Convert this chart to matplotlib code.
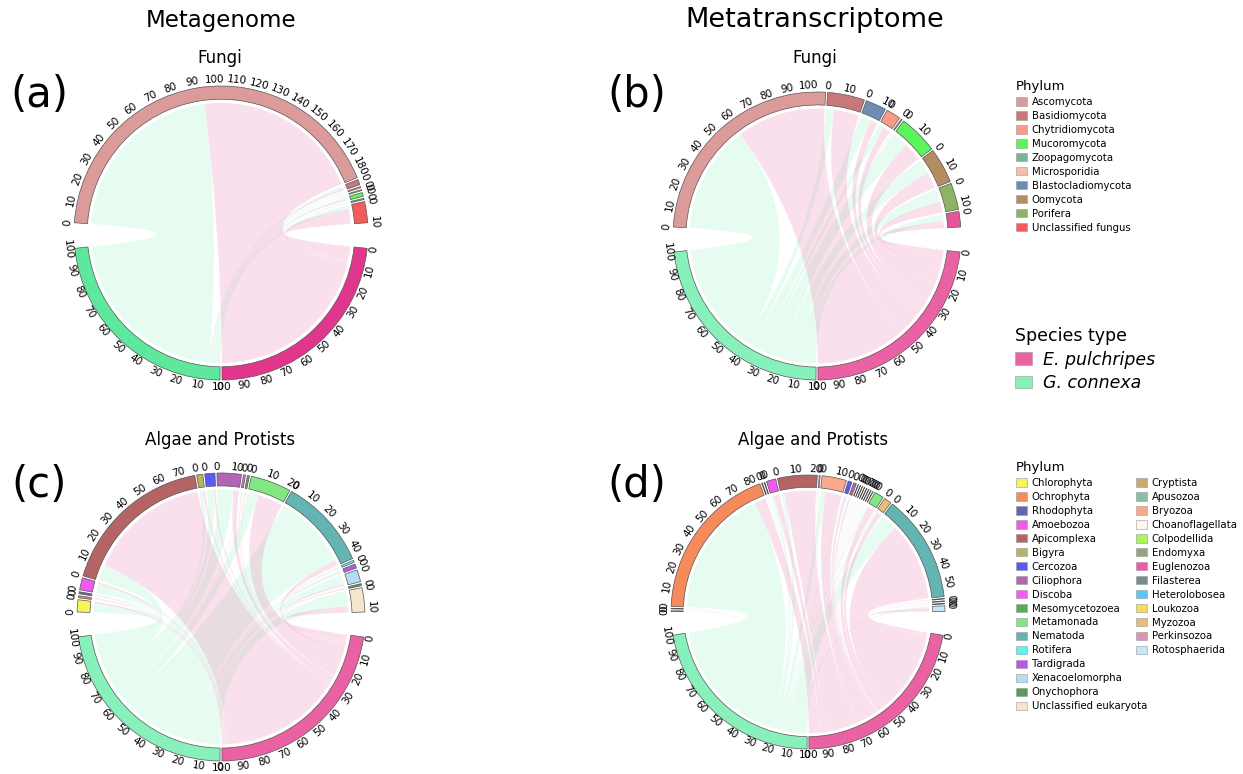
import numpy as np
import matplotlib.pyplot as plt
from matplotlib.patches import Wedge, PathPatch, Patch
from matplotlib.path import Path

W, H = 1243, 774

# colours of every phylum used in the legends
fungi_names = ["Ascomycota", "Basidiomycota", "Chytridiomycota", "Mucoromycota",
               "Zoopagomycota", "Microsporidia", "Blastocladiomycota", "Oomycota",
               "Porifera", "Unclassified fungus"]
fungi_colors = ["#dc9b9b", "#c87878", "#fa9b87", "#5af55a", "#78b496",
                "#f5bea9", "#6e8cb4", "#b48c64", "#8cb464", "#f55a5a"]

algae_names_1 = ["Chlorophyta", "Ochrophyta", "Rhodophyta", "Amoebozoa", "Apicomplexa",
                 "Bigyra", "Cercozoa", "Ciliophora", "Discoba", "Mesomycetozoea",
                 "Metamonada", "Nematoda", "Rotifera", "Tardigrada", "Xenacoelomorpha",
                 "Onychophora", "Unclassified eukaryota"]
algae_colors_1 = ["#f5f55a", "#f58a5a", "#6464b4", "#f05af0", "#b46464",
                  "#b4b464", "#5a5af5", "#b464b4", "#f55af5", "#5aaa5a",
                  "#82e682", "#64b4b4", "#5af5f5", "#b45ae6", "#b4dcf5",
                  "#5a9b5a", "#f5e6cd"]
algae_names_2 = ["Cryptista", "Apusozoa", "Bryozoa", "Choanoflagellata", "Colpodellida",
                 "Endomyxa", "Euglenozoa", "Filasterea", "Heterolobosea", "Loukozoa",
                 "Myzozoa", "Perkinsozoa", "Rotosphaerida"]
algae_colors_2 = ["#c8aa6e", "#8cbea5", "#faaa8c", "#fdf8eb", "#aaf55a",
                  "#96a57d", "#f05aaa", "#788c8c", "#5ac8f0", "#f5dc5a",
                  "#e6be78", "#dc96b4", "#c8e6fa"]

species = ["E. pulchripes", "G. connexa"]
species_colors = ["#ea62a3", "#88f0bb"]

# (a) metagenome, fungi  (% of reads per species)
a_phyla = ["Ascomycota", "Basidiomycota", "Chytridiomycota", "Microsporidia",
           "Mucoromycota", "Zoopagomycota", "Unclassified fungus"]
a_gc = [94.1, 1.5, 0.3, 0.4, 1.2, 0.5, 2.0]
a_ep = [90.0, 1.0, 0.2, 0.1, 0.6, 0.1, 8.0]

# (b) metatranscriptome, fungi
b_phyla = ["Ascomycota", "Basidiomycota", "Blastocladiomycota", "Chytridiomycota",
           "Microsporidia", "Mucoromycota", "Oomycota", "Porifera", "Unclassified fungus"]
b_gc = [59.0, 4.0, 6.0, 3.0, 0.2, 9.0, 8.0, 7.0, 3.8]
b_ep = [49.0, 14.0, 4.0, 4.0, 0.3, 10.0, 9.0, 6.0, 3.7]

# (c) metagenome, algae and protists
c_phyla = ["Chlorophyta", "Ochrophyta", "Rhodophyta", "Amoebozoa", "Apicomplexa",
           "Bigyra", "Cercozoa", "Ciliophora", "Discoba", "Mesomycetozoea",
           "Metamonada", "Nematoda", "Rotifera", "Tardigrada", "Xenacoelomorpha",
           "Onychophora", "Unclassified eukaryota"]
c_gc = [5, 0.5, 0.7, 5, 9, 2, 4, 9, 0.5, 0.5, 6, 42, 0.5, 1.5, 5, 0.3, 8.5]
c_ep = [1, 0.5, 0.3, 1, 68, 1, 1, 3, 0.5, 0.5, 14, 3, 0.5, 0.5, 1, 0.7, 3.5]

# (d) metatranscriptome, algae and protists
d_phyla = ["Chlorophyta", "Cryptista", "Ochrophyta", "Rhodophyta", "Bigyra",
           "Amoebozoa", "Apicomplexa", "Choanoflagellata", "Bryozoa", "Cercozoa",
           "Ciliophora", "Apusozoa", "Colpodellida", "Discoba", "Endomyxa",
           "Euglenozoa", "Filasterea", "Heterolobosea", "Loukozoa", "Metamonada",
           "Myzozoa", "Nematoda", "Perkinsozoa", "Rotifera", "Tardigrada", "Rotosphaerida"]
d_gc = [0.3, 0.2, 77.2, 0.3, 0.2, 1.5, 2, 0.2, 3, 0.5, 0.5, 0.1, 0.1, 0.1, 0.1,
        0.1, 0.1, 0.1, 0.1, 1, 1, 10, 0.1, 0.1, 0.1, 1]
d_ep = [0.1, 0.1, 6.8, 0.1, 0.1, 3.5, 19, 0.3, 10, 1.5, 1, 0.1, 0.1, 0.1, 0.1,
        0.2, 0.1, 0.1, 0.1, 4, 3, 47, 0.2, 0.2, 0.2, 2]

color_of = dict(zip(fungi_names + algae_names_1 + algae_names_2,
                    fungi_colors + algae_colors_1 + algae_colors_2))

GAP = 0.8
BIG_GAP = 10
R_OUT, R_IN, R_LINK = 1.0, 0.91, 0.885
R_LABEL = 1.045
LIM = 1.25


def xy(theta, r):
    t = np.radians(theta)
    return r * np.sin(t), r * np.cos(t)


def label_rot(theta):
    t = theta % 360
    rot = -t
    if 90 < t <= 270:
        rot += 180
    return rot


def draw_sector(ax, start, size, scale, color):
    end = start + size * scale
    ax.add_patch(Wedge((0, 0), R_OUT, 90 - end, 90 - start, width=R_OUT - R_IN,
                       facecolor=color, edgecolor="#555555", lw=0.5))
    for v in range(0, int(size) + 1, 10):
        th = start + v * scale
        tx, ty = xy(th, R_LABEL)
        ax.text(tx, ty, str(v), fontsize=7.5, ha="center", va="center",
                rotation=label_rot(th), rotation_mode="anchor")


def ribbon(ax, a1, a2, b1, b2, color):
    arc_a = np.linspace(a1, a2, max(3, int((a2 - a1) * 3)))
    arc_b = np.linspace(b1, b2, max(3, int((b2 - b1) * 3)))
    verts = [xy(t, R_LINK) for t in arc_a]
    codes = [Path.MOVETO] + [Path.LINETO] * (len(arc_a) - 1)
    verts += [(0, 0), xy(b1, R_LINK)]
    codes += [Path.CURVE3, Path.CURVE3]
    verts += [xy(t, R_LINK) for t in arc_b[1:]]
    codes += [Path.LINETO] * (len(arc_b) - 1)
    verts += [(0, 0), xy(a1, R_LINK), (0, 0)]
    codes += [Path.CURVE3, Path.CURVE3, Path.CLOSEPOLY]
    ax.add_patch(PathPatch(Path(verts, codes), facecolor=color, alpha=0.2,
                           edgecolor="white", lw=0.5))


def chord_panel(cx, cy, R, phyla, gc, ep, sp_colors, overrides=None):
    ax = fig.add_axes([(cx - LIM * R) / W, 1 - (cy + LIM * R) / H,
                       2 * LIM * R / W, 2 * LIM * R / H])
    ax.set_xlim(-LIM, LIM)
    ax.set_ylim(-LIM, LIM)
    ax.axis("off")
    overrides = overrides or {}
    sizes = [g + e for g, e in zip(gc, ep)]
    n = len(phyla) + 2
    scale = (360 - 2 * BIG_GAP - (n - 2) * GAP) / 400
    top_span = 200 * scale + (len(phyla) - 1) * GAP
    starts = []
    th = -top_span / 2
    for s in sizes:
        starts.append(th)
        th += s * scale + GAP
    bot_span = 200 * scale + GAP
    sp_starts = [180 - bot_span / 2, 180 - bot_span / 2 + 100 * scale + GAP]

    for name, st, s in zip(phyla, starts, sizes):
        draw_sector(ax, st, s, scale, overrides.get(name, color_of[name]))
    for st, c in zip(sp_starts, sp_colors):
        draw_sector(ax, st, 100, scale, c)

    # green species fills the first part of every phylum, pink the rest
    ph_ptr = list(starts)
    for vals, sp_st, link_c in [(gc, sp_starts[1], species_colors[1]),
                                (ep, sp_starts[0], species_colors[0])]:
        ptr = sp_st
        for i in reversed(range(len(phyla))):
            w = vals[i] * scale
            if w <= 0:
                continue
            ribbon(ax, ptr, ptr + w, ph_ptr[i], ph_ptr[i] + w, link_c)
            ptr += w
            ph_ptr[i] += w
    return ax


fig = plt.figure(figsize=(W / 100, H / 100), dpi=100)

chord_panel(221, 233, 147, a_phyla, a_gc, a_ep, ["#e0368b", "#5ee89e"])
chord_panel(817, 236, 144, b_phyla, b_gc, b_ep, species_colors,
            overrides={"Unclassified fungus": "#e6559b"})
chord_panel(221, 617, 144, c_phyla, c_gc, c_ep, species_colors)
chord_panel(808, 612, 137, d_phyla, d_gc, d_ep, species_colors)


def ftext(x, y, s, **kw):
    fig.text(x / W, 1 - y / H, s, ha="center", va="center", **kw)


ftext(221, 20, "Metagenome", fontsize=16.5)
ftext(815, 20, "Metatranscriptome", fontsize=19.5)
ftext(220, 58, "Fungi", fontsize=12)
ftext(815, 58, "Fungi", fontsize=12)
ftext(220, 440, "Algae and Protists", fontsize=12)
ftext(813, 440, "Algae and Protists", fontsize=12)
for lab, x, y in [("(a)", 39, 95), ("(b)", 637, 95), ("(c)", 39, 485), ("(d)", 637, 485)]:
    ftext(x, y, lab, fontsize=30)


def patches(colors):
    return [Patch(facecolor=c, edgecolor="#999999", lw=0.4) for c in colors]


leg_kw = dict(loc="upper left", frameon=False, fontsize=7.3, handlelength=1.1,
              handleheight=0.9, handletextpad=0.45, labelspacing=0.39,
              borderpad=0, borderaxespad=0)

fig.legend(patches(fungi_colors), fungi_names, bbox_to_anchor=(1016 / W, 1 - 80 / H),
           title="Phylum", title_fontsize=9.5, alignment="left", **leg_kw)
fig.legend(patches(algae_colors_1), algae_names_1, bbox_to_anchor=(1016 / W, 1 - 461 / H),
           title="Phylum", title_fontsize=9.5, alignment="left", **leg_kw)
fig.legend(patches(algae_colors_2), algae_names_2, bbox_to_anchor=(1136 / W, 1 - 478 / H),
           **leg_kw)

sp_leg = fig.legend(patches(species_colors), species, bbox_to_anchor=(1015 / W, 1 - 327 / H),
                    title="Species type", title_fontsize=12.5, alignment="left",
                    loc="upper left", frameon=False, fontsize=12.5, handlelength=1.0,
                    handleheight=0.75, handletextpad=0.6, labelspacing=0.32,
                    borderpad=0, borderaxespad=0)
for t in sp_leg.get_texts():
    t.set_fontstyle("italic")

fig.savefig("out.png", dpi=100)
